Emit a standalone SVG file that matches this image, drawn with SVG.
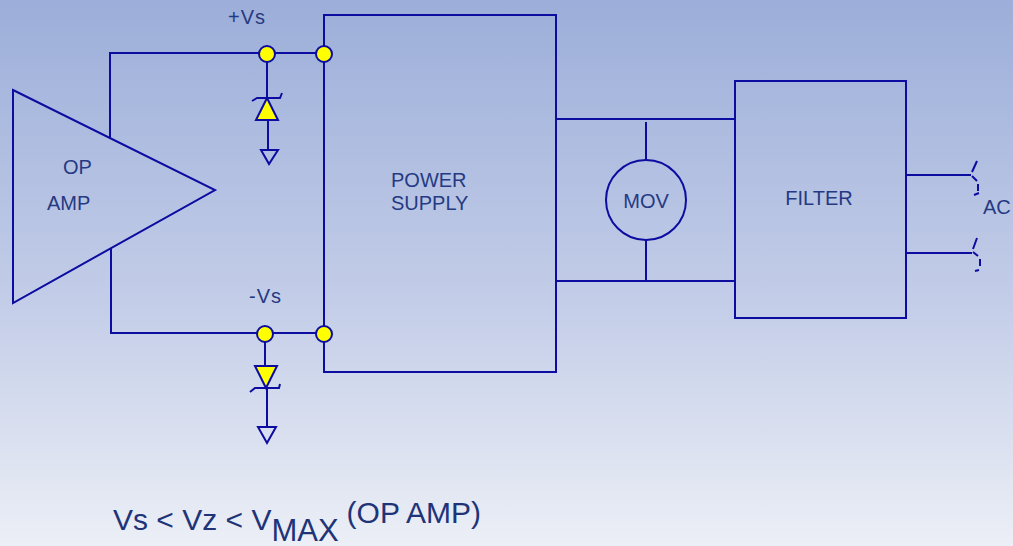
<svg xmlns="http://www.w3.org/2000/svg" width="1013" height="546" viewBox="0 0 1013 546">
<defs>
<linearGradient id="bg" x1="0" y1="0" x2="0" y2="1">
<stop offset="0" stop-color="#9caed9"/>
<stop offset="0.55" stop-color="#c3cde8"/>
<stop offset="1" stop-color="#eceff6"/>
</linearGradient>
<style>
.w{fill:none;stroke:#0c0ca0;stroke-width:2;stroke-linejoin:miter}
.d{fill:#ffff00;stroke:#0c0ca0;stroke-width:2}
.t{font-family:"Liberation Sans",Arial,sans-serif;font-size:20px;fill:#253a82}
.f{font-family:"Liberation Sans",Arial,sans-serif;font-size:30px;fill:#1f3478}
</style>
</defs>
<rect width="1013" height="546" fill="url(#bg)"/>
<g id="connectors">
<path class="w" d="M110,138 V53 H324"/>
<path class="w" d="M111,248 V333 H324"/>
<path class="w" d="M267,53 V98"/>
<path class="w" d="M268,120 V150"/>
<path class="w" d="M265,333 V366"/>
<path class="w" d="M267,388 V427"/>
<path class="w" d="M556,119 H735"/>
<path class="w" d="M556,281 H735"/>
<path class="w" d="M646,122 V160"/>
<path class="w" d="M646,240 V281"/>
<path class="w" d="M906,175 H971"/>
<path class="w" d="M906,253 H972"/>
</g>
<g id="opamp">
<polygon class="w" points="13,90 215,190 13,303"/>
<text class="t" x="63" y="174">OP</text>
<text class="t" x="47" y="210">AMP</text>
</g>
<g id="power-supply">
<rect class="w" x="324" y="15" width="232" height="357"/>
<text class="t" x="391" y="187">POWER</text>
<text class="t" x="391" y="210">SUPPLY</text>
</g>
<g id="mov">
<circle class="w" cx="646" cy="200" r="40"/>
<text class="t" x="646" y="208" text-anchor="middle">MOV</text>
</g>
<g id="filter">
<rect class="w" x="735" y="81" width="171" height="237"/>
<text class="t" x="819" y="205" text-anchor="middle">FILTER</text>
</g>
<g id="zener-top">
<path class="w" d="M252,101 L257,98 H280 L282,93"/>
<polygon class="d" points="267,98 256,120 278,120"/>
</g>
<g id="zener-bottom">
<path class="w" d="M250,392 L255,388 H279 L280,384"/>
<polygon class="d" points="255,366 277,366 266,388"/>
</g>
<g id="ground-top">
<polygon class="w" points="261,150 278,150 269,164"/>
</g>
<g id="ground-bottom">
<polygon class="w" points="258,427 276,427 267,443"/>
</g>
<g id="dots">
<circle class="d" cx="267" cy="54" r="8"/>
<circle class="d" cx="324" cy="54" r="8"/>
<circle class="d" cx="265" cy="334" r="8"/>
<circle class="d" cx="324" cy="334" r="8"/>
</g>
<g id="ac-plug">
<path class="w" d="M977,161 L972,172 M972,176 L977,181 M978,184 V191 M974,195 L979,193"/>
<path class="w" d="M977,238 L973,249 M973,252 L978,256 M980,259 V266 M975,271 L979,270"/>
<text class="t" x="983" y="214">AC</text>
</g>
<g id="labels">
<text class="t" x="228" y="24" letter-spacing="1">+Vs</text>
<text class="t" x="249" y="303" letter-spacing="1">-Vs</text>
<text class="f" x="113" y="530">Vs &lt; Vz &lt; V<tspan font-size="31" dy="11">MAX</tspan><tspan dy="-18" dx="8" font-size="30">(OP AMP)</tspan></text>
</g>
</svg>
